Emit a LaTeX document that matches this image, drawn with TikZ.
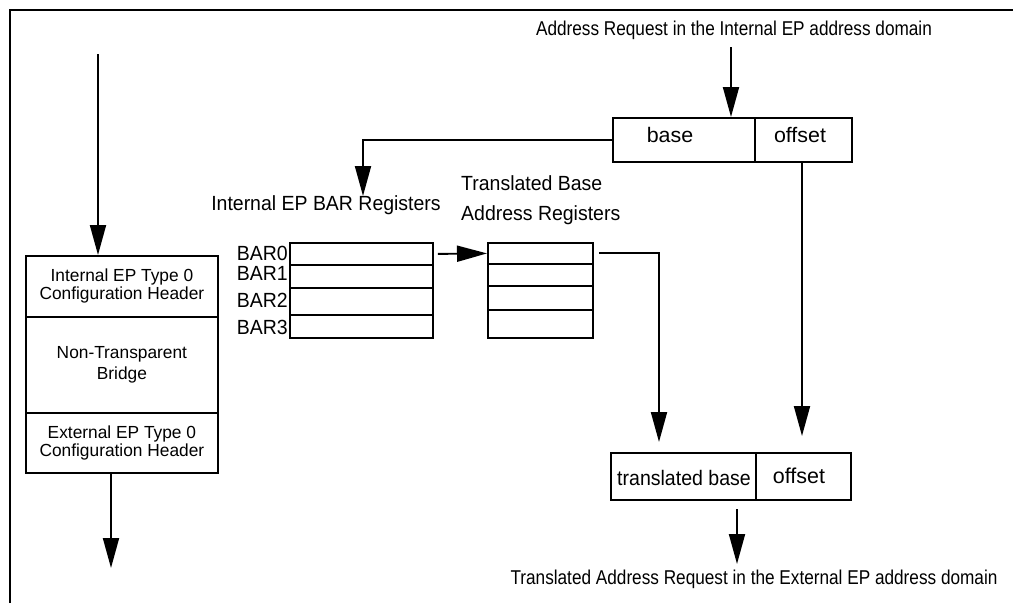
\documentclass[tikz,border=0pt]{standalone}
\usepackage{fontspec}
\setmainfont{Liberation Sans}
\newfontfamily\fnarrow{Liberation Sans}[FakeStretch=0.86]
\newfontfamily\fwide{Liberation Sans}[FakeStretch=1.02]
\newfontfamily\fhdr{Liberation Sans}[FakeStretch=0.99]
\newfontfamily\fmid{Liberation Sans}[FakeStretch=0.95]
\newfontfamily\ftb{Liberation Sans}[FakeStretch=0.93]
\usetikzlibrary{arrows.meta}
\begin{document}
\begin{tikzpicture}[x=1pt,y=-1pt,
  box/.style={draw,line width=1.8pt,inner sep=0pt,anchor=north west},
  hdrtxt/.style={font=\fhdr\fontsize{17.5}{18}\selectfont},
  labeltxt/.style={font=\fnarrow\fontsize{20}{24}\selectfont},
  midtxt/.style={font=\fmid\fontsize{20.5}{30}\selectfont},
  bigtxt/.style={font=\fwide\fontsize{21}{22}\selectfont},
  tbtxt/.style={font=\ftb\fontsize{21}{24}\selectfont},
  arr/.style={line width=1.9pt,-{Triangle[length=30pt,width=16pt]}}]
\useasboundingbox (0,0) rectangle (1013,603);
% frame
\draw[line width=2.2pt] (10,603) -- (10,10) -- (1013,10);
% left header box
\node[box,minimum width=192pt,minimum height=61pt] (ihdr) at (25,255) {};
\node[box,minimum width=192pt,minimum height=96pt] (ntb) at (25,316) {};
\node[box,minimum width=192pt,minimum height=60pt] (ehdr) at (25,412) {};
\node[hdrtxt,align=center] (ihdrt) at (ihdr.center) {Internal EP Type 0\\Configuration Header};
\node[align=center,font=\fhdr\fontsize{17.5}{21}\selectfont] (ntbt) at (ntb.center) {Non-Transparent\\Bridge};
\node[hdrtxt,align=center] (ehdrt) at (ehdr.center) {External EP Type 0\\Configuration Header};
\coordinate (ltop) at (98,54);
\coordinate (lbot) at (111,568);
\draw[arr] (ltop) -- (ltop |- ihdr.north);
\draw[arr] (lbot |- ehdr.south) -- (lbot);
% BAR registers
\node[box,minimum width=143pt,minimum height=22pt] (bar0) at (289,242) {};
\node[box,minimum width=143pt,minimum height=23pt] (bar1) at (289,264) {};
\node[box,minimum width=143pt,minimum height=27pt] (bar2) at (289,287) {};
\node[box,minimum width=143pt,minimum height=23pt] (bar3) at (289,314) {};
\node[midtxt,anchor=east,inner sep=1pt] (l0) at (289,253) {BAR0};
\node[midtxt,anchor=east,inner sep=1pt] (l1) at (289,273) {BAR1};
\node[midtxt,anchor=east,inner sep=1pt] (l2) at (289,300) {BAR2};
\node[midtxt,anchor=east,inner sep=1pt] (l3) at (289,327) {BAR3};
\node[midtxt] (barlbl) at (326,205) {Internal EP BAR Registers};
% translated registers
\node[box,minimum width=105pt,minimum height=21pt] (tb0) at (487,242) {};
\node[box,minimum width=105pt,minimum height=22pt] (tb1) at (487,263) {};
\node[box,minimum width=105pt,minimum height=24pt] (tb2) at (487,285) {};
\node[box,minimum width=105pt,minimum height=28pt] (tb3) at (487,309) {};
\node[midtxt,align=left,anchor=west,inner sep=0pt] (tblbl) at (461,200) {Translated Base\\Address Registers};
% base / offset
\node[box,minimum width=142pt,minimum height=44pt] (base) at (612,117) {};
\node[box,minimum width=97pt,minimum height=44pt] (off) at (754,117) {};
\node[bigtxt] at (670,135) {base};
\node[bigtxt] at (800,135) {offset};
% translated base / offset
\node[box,minimum width=145pt,minimum height=47pt] (tbase) at (610,452) {};
\node[box,minimum width=95pt,minimum height=47pt] (toff) at (755,452) {};
\node[tbtxt] at (684,478) {translated base};
\node[font=\fontsize{21.5}{24}\selectfont] at (799,476) {offset};
% labels
\node[labeltxt] (reqin) at (734,30) {Address Request in the Internal EP address domain};
\node[labeltxt] (reqout) at (754,579) {Translated Address Request in the External EP address domain};
% connectors
\coordinate (rin) at (731,47);
\draw[arr] (rin) -- (rin |- base.north);
\coordinate (bartip) at (363,196);
\draw[arr] (base.west) -- (bartip |- base.west) -- (bartip);
\draw[arr] ([xshift=4pt]bar0.east) -- (tb0.west);
\coordinate (ttip) at (659,442);
\draw[arr] ([xshift=5pt]tb0.east) -- (ttip |- tb0.east) -- (ttip);
\coordinate (otip) at (802,436);
\draw[arr] (otip |- off.south) -- (otip);
\coordinate (btip) at (737,564);
\draw[arr] (737,509) -- (btip);
\end{tikzpicture}
\end{document}
